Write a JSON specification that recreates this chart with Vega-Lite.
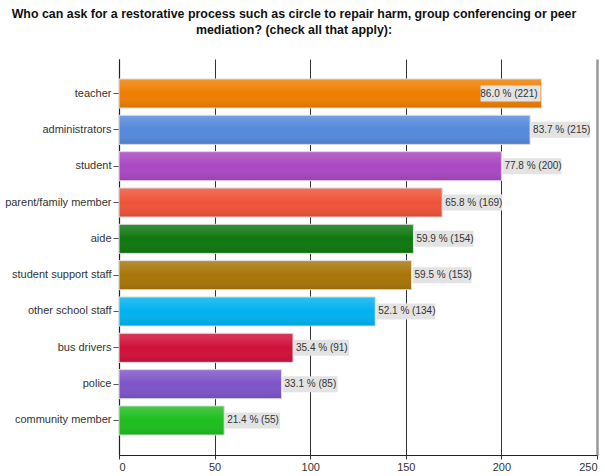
{
  "$schema": "https://vega.github.io/schema/vega-lite/v6.json",
  "width": 478,
  "height": 396,
  "autosize": "none",
  "padding": {"left": 119, "top": 59, "right": 8, "bottom": 21},
  "background": "white",
  "config": {"font": "Liberation Sans", "view": {"stroke": null}},
  "title": {
    "text": ["Who can ask for a restorative process such as circle to repair harm, group conferencing or peer", "mediation? (check all that apply):"],
    "fontSize": 12.4,
    "fontWeight": "bold",
    "color": "#111111",
    "anchor": "middle",
    "frame": "group",
    "dx": -64,
    "offset": 23,
    "lineHeight": 16
  },
  "data": {
    "values": [
      {"who": "teacher", "n": 221, "label": "86.0 % (221)", "c": "#EE7F00"},
      {"who": "administrators", "n": 215, "label": "83.7 % (215)", "c": "#5589DC"},
      {"who": "student", "n": 200, "label": "77.8 % (200)", "c": "#AA47C3"},
      {"who": "parent/family member", "n": 169, "label": "65.8 % (169)", "c": "#EE5338"},
      {"who": "aide", "n": 154, "label": "59.9 % (154)", "c": "#0F780F"},
      {"who": "student support staff", "n": 153, "label": "59.5 % (153)", "c": "#A87508"},
      {"who": "other school staff", "n": 134, "label": "52.1 % (134)", "c": "#00B2F0"},
      {"who": "bus drivers", "n": 91, "label": "35.4 % (91)", "c": "#D0103A"},
      {"who": "police", "n": 85, "label": "33.1 % (85)", "c": "#7E55C8"},
      {"who": "community member", "n": 55, "label": "21.4 % (55)", "c": "#1EBE1E"}
    ]
  },
  "encoding": {
    "y": {
      "field": "who",
      "type": "nominal",
      "sort": null,
      "scale": {"paddingInner": 0.2, "paddingOuter": 0.55},
      "axis": {
        "title": null,
        "labelFontSize": 11,
        "labelColor": "#333333",
        "tickColor": "#555555",
        "tickSize": 6,
        "labelPadding": 2,
        "domainColor": "#222222",
        "domainWidth": 1.2
      }
    },
    "x": {
      "field": "n",
      "type": "quantitative",
      "scale": {"domain": [0, 250], "nice": false},
      "axis": {
        "title": null,
        "values": [0, 50, 100, 150, 200, 250],
        "grid": true,
        "gridColor": {"condition": {"test": "datum.value === 250", "value": "#999999"}, "value": "#333333"},
        "gridWidth": {"condition": {"test": "datum.value === 250", "value": 2.5}, "value": 1},
        "tickSize": 4,
        "tickColor": "#333333",
        "domainColor": "#222222",
        "labelFontSize": 11,
        "labelColor": "#333333",
        "labelPadding": 2
      }
    }
  },
  "layer": [
    {
      "mark": {"type": "bar"},
      "encoding": {"color": {"field": "c", "type": "nominal", "scale": null}}
    },
    {
      "mark": {
        "type": "bar",
        "stroke": "#dddddd",
        "strokeWidth": 1,
        "fill": {
          "gradient": "linear",
          "x1": 0, "y1": 0, "x2": 0, "y2": 1,
          "stops": [
            {"offset": 0, "color": "rgba(255,255,255,0.18)"},
            {"offset": 0.5, "color": "rgba(255,255,255,0.0)"},
            {"offset": 1, "color": "rgba(0,0,0,0.1)"}
          ]
        }
      }
    },
    {
      "transform": [{"filter": "datum.n >= 100 && datum.n < 220"}],
      "mark": {"type": "bar", "color": "#E3E3E3", "height": 16, "xOffset": 1, "x2Offset": 60},
      "encoding": {"x2": {"field": "n"}}
    },
    {
      "transform": [{"filter": "datum.n < 100"}],
      "mark": {"type": "bar", "color": "#E3E3E3", "height": 16, "xOffset": 1, "x2Offset": 56},
      "encoding": {"x2": {"field": "n"}}
    },
    {
      "transform": [{"filter": "datum.n >= 220"}],
      "mark": {"type": "bar", "color": "#E3E3E3", "height": 16, "xOffset": -61, "x2Offset": -1},
      "encoding": {"x2": {"field": "n"}}
    },
    {
      "transform": [{"filter": "datum.n < 220"}],
      "mark": {"type": "text", "align": "left", "dx": 3, "fontSize": 10, "color": "#333333"},
      "encoding": {"text": {"field": "label"}}
    },
    {
      "transform": [{"filter": "datum.n >= 220"}],
      "mark": {"type": "text", "align": "right", "dx": -4, "fontSize": 10, "color": "#333333"},
      "encoding": {"text": {"field": "label"}}
    }
  ]
}
